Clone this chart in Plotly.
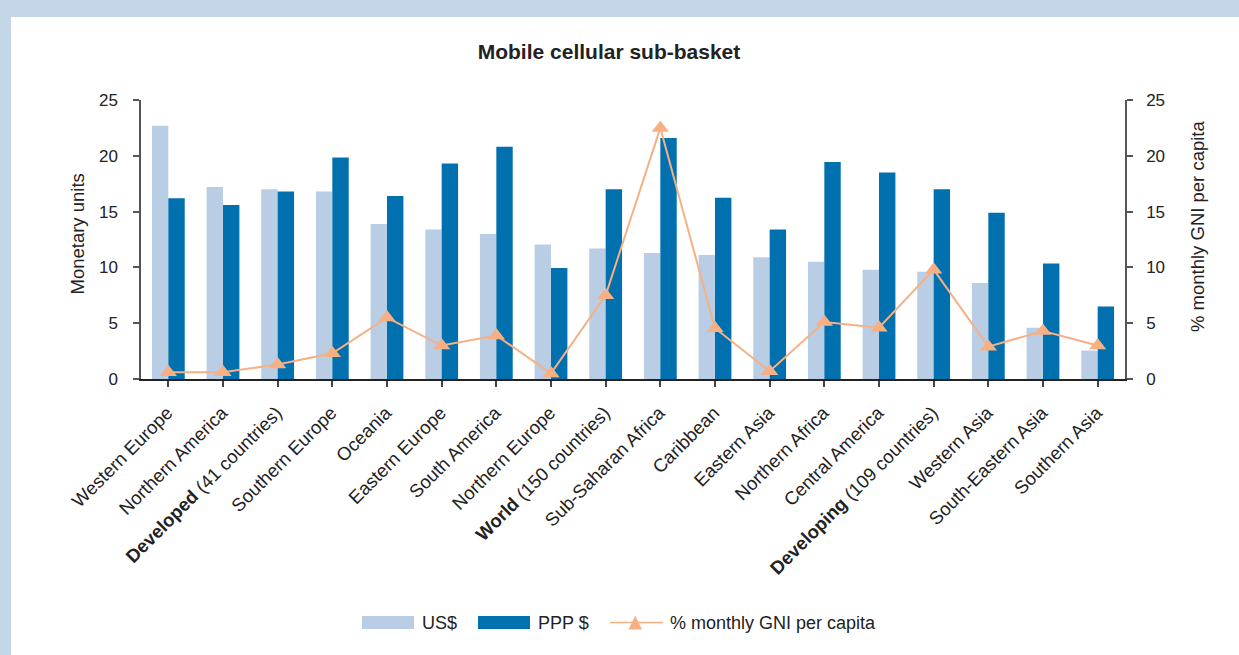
import plotly.graph_objects as go

# Mobile cellular sub-basket by region
categories = [
    "Western Europe", "Northern America", "<b>Developed</b> (41 countries)",
    "Southern Europe", "Oceania", "Eastern Europe", "South America",
    "Northern Europe", "<b>World</b> (150 countries)", "Sub-Saharan Africa",
    "Caribbean", "Eastern Asia", "Northern Africa", "Central America",
    "<b>Developing</b> (109 countries)", "Western Asia", "South-Eastern Asia",
    "Southern Asia",
]
usd = [22.7, 17.2, 17.0, 16.8, 13.9, 13.4, 13.0, 12.05, 11.7, 11.3,
       11.1, 10.9, 10.5, 9.8, 9.6, 8.6, 4.6, 2.55]
ppp = [16.2, 15.6, 16.8, 19.85, 16.4, 19.3, 20.8, 9.95, 17.0, 21.6,
       16.25, 13.4, 19.45, 18.5, 17.0, 14.9, 10.35, 6.5]
gni_pct = [0.6, 0.6, 1.3, 2.3, 5.5, 3.0, 3.9, 0.5, 7.5, 22.5,
           4.55, 0.7, 5.1, 4.6, 9.8, 2.9, 4.3, 3.0]
y_ticks = [0, 5, 10, 15, 20, 25]
series_names = ["US$", "PPP $", "% monthly GNI per capita"]

W, H = 1239, 655
ML, MR, MT, MB = 141, 114, 100, 276
PW, PH = W - ML - MR, H - MT - MB


def px_x(px):
    return (px - ML) / PW


def px_y(py):
    return (H - MB - py) / PH


FONT = "Liberation Sans, Arial, sans-serif"
TXT = "#222222"
LIGHT = "#B9CDE5"
DARK = "#0070AF"
ORANGE = "#F7B084"
BAND = "#C5D5E8"

idx = list(range(len(categories)))

fig = go.Figure()
fig.add_trace(go.Bar(x=idx, y=usd, name=series_names[0], showlegend=False,
                     marker=dict(color=LIGHT, line=dict(width=0))))
fig.add_trace(go.Bar(x=idx, y=ppp, name=series_names[1], showlegend=False,
                     marker=dict(color=DARK, line=dict(width=0))))
fig.add_trace(go.Scatter(
    x=idx, y=gni_pct, name=series_names[2], yaxis="y2", showlegend=False,
    mode="lines+markers",
    line=dict(color=ORANGE, width=2),
    marker=dict(symbol="triangle-up", size=15, color=ORANGE),
))

axis_common = dict(
    range=[0, 25], tickvals=y_ticks, showgrid=False, zeroline=False,
    showline=True, linecolor="#555555", linewidth=1.5,
    ticks="outside", ticklen=6, tickcolor="#555555", tickwidth=1.5,
    tickfont=dict(family=FONT, size=17, color=TXT),
)

# Legend drawn below the chart: wide swatches, a line sample with a triangle
shapes = [dict(
    type="rect", xref="paper", yref="paper", layer="below",
    x0=px_x(11), x1=px_x(W + 5), y0=px_y(17), y1=px_y(H + 5),
    fillcolor="white", line=dict(width=0),
)]
LEG_Y = 622.5
for x0, x1, col in [(362, 414, LIGHT), (478, 530, DARK)]:
    shapes.append(dict(type="rect", xref="paper", yref="paper",
                       x0=px_x(x0), x1=px_x(x1), y0=px_y(LEG_Y - 6.5), y1=px_y(LEG_Y + 6.5),
                       fillcolor=col, line=dict(width=0)))
shapes.append(dict(type="line", xref="paper", yref="paper",
                   x0=px_x(610), x1=px_x(663), y0=px_y(LEG_Y), y1=px_y(LEG_Y),
                   line=dict(color=ORANGE, width=1.5)))
tri = "M {} {} L {} {} L {} {} Z".format(
    px_x(628.5), px_y(629.5), px_x(642), px_y(629.5), px_x(635.25), px_y(615.5))
shapes.append(dict(type="path", xref="paper", yref="paper", path=tri,
                   fillcolor=ORANGE, line=dict(width=0)))

annotations = [
    dict(text="Monetary units", xref="paper", yref="paper", x=px_x(76.5), y=px_y(234),
         textangle=-90, showarrow=False, xanchor="center", yanchor="middle",
         font=dict(family=FONT, size=18.5, color=TXT)),
    dict(text="% monthly GNI per capita", xref="paper", yref="paper", x=px_x(1197), y=px_y(227),
         textangle=-90, showarrow=False, xanchor="center", yanchor="middle",
         font=dict(family=FONT, size=18.5, color=TXT)),
]
for name, x_left in zip(series_names, [420, 536, 668]):
    annotations.append(dict(text=name, xref="paper", yref="paper", x=px_x(x_left), y=px_y(LEG_Y),
                            showarrow=False, xanchor="left", yanchor="middle",
                            font=dict(family=FONT, size=18, color=TXT)))

fig.update_layout(
    width=W, height=H,
    margin=dict(l=ML, r=MR, t=MT, b=MB, autoexpand=False),
    paper_bgcolor=BAND, plot_bgcolor="rgba(0,0,0,0)",
    barmode="group", bargap=0.4, bargroupgap=0,
    font=dict(family=FONT, color=TXT),
    showlegend=False,
    title=dict(text="<b>Mobile cellular sub-basket</b>", x=609 / W, xanchor="center",
               y=1 - 52 / H, yanchor="middle", font=dict(family=FONT, size=21, color=TXT)),
    xaxis=dict(
        tickmode="array", tickvals=idx, ticktext=categories, tickangle=-45,
        range=[-0.5, len(categories) - 0.5],
        tickson="boundaries", ticks="outside", ticklen=6, tickcolor="#444444", tickwidth=1.5,
        showline=True, linecolor="#222222", linewidth=1.5, showgrid=False,
        tickfont=dict(family=FONT, size=18.5, color=TXT), automargin=False,
        ticklabelshift=-1, ticklabelstandoff=8,
    ),
    yaxis=dict(**axis_common, side="left", automargin=False, ticklabelstandoff=12),
    yaxis2=dict(**axis_common, side="right", overlaying="y", automargin=False, ticklabelstandoff=10),
    shapes=shapes,
    annotations=annotations,
)

fig.write_html("out.html")
